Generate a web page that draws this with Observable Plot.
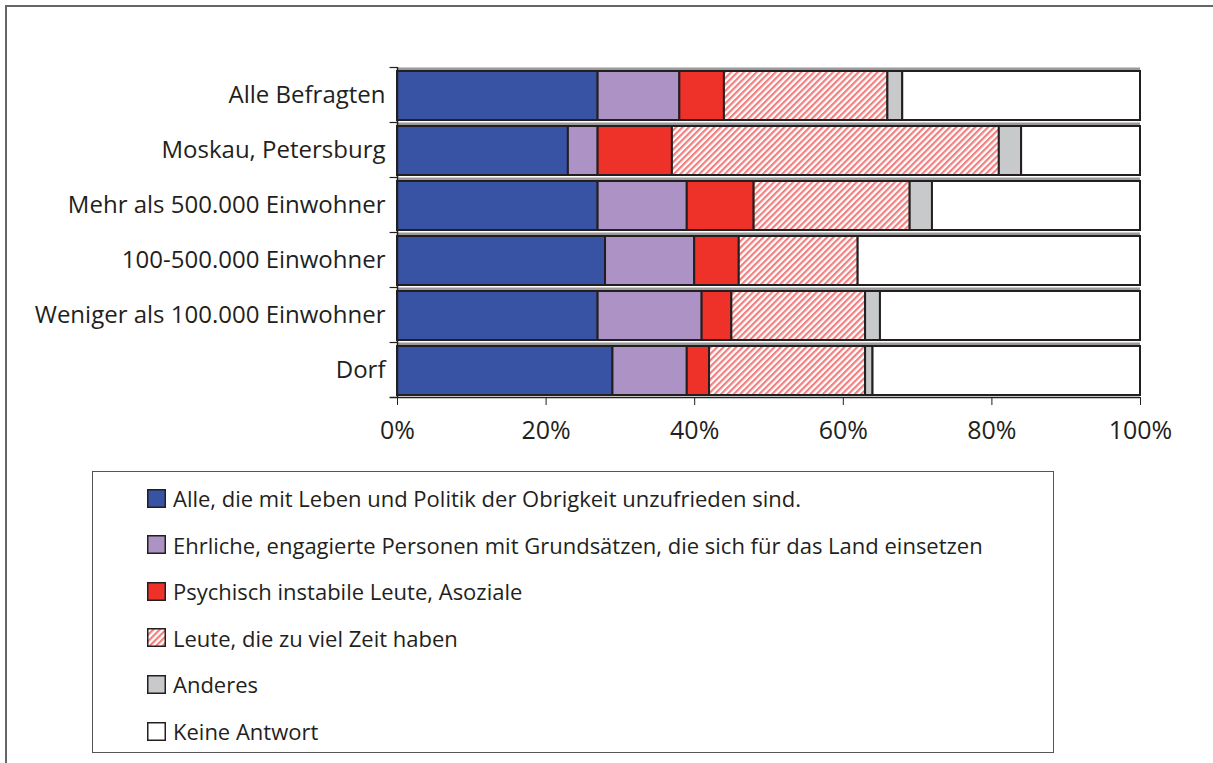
<!DOCTYPE html>
<html><head><meta charset="utf-8">
<script src="https://cdn.jsdelivr.net/npm/d3@7"></script>
<script src="https://cdn.jsdelivr.net/npm/@observablehq/plot@0.6"></script>
<style>
html,body{margin:0;padding:0;background:#fff;}
body{width:1213px;height:763px;position:relative;overflow:hidden;font-family:"Open Sans",sans-serif;color:#231f20;}
#frame{position:absolute;left:5px;top:5px;width:1400px;height:1000px;border-left:2px solid #666;border-top:2px solid #666;}
#chart{position:absolute;left:0;top:0;}
#legend{position:absolute;left:92px;top:471px;width:962px;height:282px;border:1.5px solid #555;box-sizing:border-box;}
.item{position:absolute;left:54px;height:26px;display:flex;align-items:center;font-size:22px;white-space:nowrap;}
.item svg{margin-right:7px;}
</style></head><body>
<div id="frame"></div><div id="chart"></div><div id="legend"></div>
<script>
const categories = ["Alle Befragten","Moskau, Petersburg","Mehr als 500.000 Einwohner","100-500.000 Einwohner","Weniger als 100.000 Einwohner","Dorf"];
const series = ["Alle, die mit Leben und Politik der Obrigkeit unzufrieden sind.","Ehrliche, engagierte Personen mit Grundsätzen, die sich für das Land einsetzen","Psychisch instabile Leute, Asoziale","Leute, die zu viel Zeit haben","Anderes","Keine Antwort"];
const colors = ["#3953a4","#ad93c5","#ee3129","url(#hatch)","#c8c9cb","#ffffff"];
const unzufrieden = [27,23,27,28,27,29];
const ehrliche = [11,4,12,12,14,10];
const psychisch = [6,10,9,6,4,3];
const zeit = [22,44,21,16,18,21];
const anderes = [2,3,3,0,2,1];
const keine = [32,16,28,38,35,36];
const xTicks = [0,20,40,60,80,100];

const valueLists = [unzufrieden, ehrliche, psychisch, zeit, anderes, keine];
const data = [];
categories.forEach((c, i) => {
  series.forEach((s, j) => {
    data.push({category: c, series: s, value: valueLists[j][i]});
  });
});

const H = 450, top0 = 67, bottom0 = 397;
const step = (bottom0 - top0) / categories.length;
const ink = "#231f20";

const svg = Plot.plot({
  width: 1213, height: H,
  marginLeft: 397, marginRight: 73, marginTop: top0, marginBottom: H - bottom0,
  x: {domain: [0, 100], label: null},
  y: {domain: categories, padding: 0, label: null},
  color: {domain: series, range: colors},
  style: {fontFamily: "'Open Sans', sans-serif", fontSize: "21px", color: ink, background: "none"},
  marks: [
    Plot.ruleY(categories, {y: d => d, x1: 0, x2: 100, dy: -step / 2 + 1.5, stroke: "#9a9a9a", strokeWidth: 3}),
    Plot.barX(data.filter(d => d.value > 0), {x: "value", y: "category", fill: "series", stroke: ink, strokeWidth: 2, insetTop: 4, insetBottom: 2}),
    Plot.ruleX([0], {stroke: ink, strokeWidth: 1.5}),
    Plot.ruleY(categories, {y: d => d, x1: -1, x2: 0, dy: -step / 2, stroke: ink, strokeWidth: 1.2}),
    Plot.ruleY([categories[categories.length - 1]], {y: d => d, x1: -1, x2: 100, dy: step / 2, stroke: ink, strokeWidth: 1.5}),
    Plot.axisY({tickSize: 0, tickPadding: 12, fontSize: 24, label: null}),
    Plot.axisX({ticks: xTicks, tickFormat: d => d + "%", tickSize: 8, tickPadding: 16, fontSize: 25, label: null})
  ]
});
d3.select(svg).insert("defs", ":first-child").html(
  `<pattern id="hatch" patternUnits="userSpaceOnUse" width="4.5" height="4.5" patternTransform="rotate(45)"><rect width="4.5" height="4.5" fill="#fff"/><rect width="2.2" height="4.5" fill="#f27f7f"/></pattern>`);
document.getElementById("chart").appendChild(svg);

const legend = d3.select("#legend");
series.forEach((s, j) => {
  const item = legend.append("div").attr("class", "item").style("top", (13 + j * 46.6) + "px");
  const sw = item.append("svg").attr("width", 19).attr("height", 19);
  sw.append("rect").attr("x", 0.75).attr("y", 0.75).attr("width", 17.5).attr("height", 17.5)
    .attr("fill", colors[j]).attr("stroke", ink).attr("stroke-width", 1.5);
  item.append("span").text(s);
});
</script>
</body></html>
